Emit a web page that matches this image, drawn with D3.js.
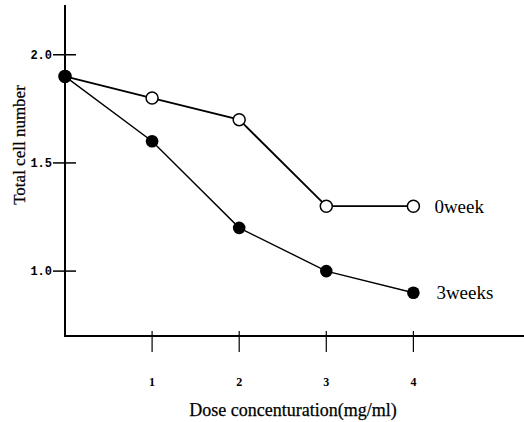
<!DOCTYPE html>
<html><head><meta charset="utf-8">
<script src="https://cdn.jsdelivr.net/npm/d3@7"></script>
<style>body{margin:0;background:#fff}svg{display:block}</style>
</head><body>
<svg id="c" width="524" height="422"></svg>
<script>
const doses = [0, 1, 2, 3, 4];
const week0 = [1.9, 1.8, 1.7, 1.3, 1.3];
const week3 = [1.9, 1.6, 1.2, 1.0, 0.9];
const xTicks = [1, 2, 3, 4];
const yTicks = [1.0, 1.5, 2.0];
const seriesNames = ["0week", "3weeks"];

const svg = d3.select("#c");
const x = d3.scaleLinear().domain([0, 5.27]).range([65, 524]);
const y = d3.scaleLinear().domain([0.7, 2.23]).range([336, 5]);

// axes lines
svg.append("line").attr("x1", x(0)).attr("x2", x(0)).attr("y1", y(2.23)).attr("y2", y(0.7))
  .attr("stroke", "#000").attr("stroke-width", 2);
svg.append("line").attr("x1", x(0) - 1).attr("x2", 524).attr("y1", y(0.7)).attr("y2", y(0.7))
  .attr("stroke", "#000").attr("stroke-width", 2);

// y ticks
const yt = svg.append("g");
yTicks.forEach(v => {
  yt.append("line").attr("x1", x(0) - 12).attr("x2", x(0) + 11).attr("y1", y(v)).attr("y2", y(v))
    .attr("stroke", "#000").attr("stroke-width", 1.5);
  yt.append("text").attr("x", x(0) - 13).attr("y", y(v)).attr("dy", "0.35em")
    .attr("text-anchor", "end").attr("font-family", "Liberation Mono, DejaVu Sans Mono, monospace")
    .attr("font-weight", "bold").attr("font-size", 12).text(v.toFixed(1));
});
// x ticks
const xt = svg.append("g");
xTicks.forEach(v => {
  xt.append("line").attr("x1", x(v)).attr("x2", x(v)).attr("y1", y(0.7) - 5).attr("y2", y(0.7) + 16)
    .attr("stroke", "#000").attr("stroke-width", 1.2);
  xt.append("text").attr("x", x(v)).attr("y", 382).attr("dy", "0.35em")
    .attr("text-anchor", "middle").attr("font-family", "Liberation Serif, serif")
    .attr("font-weight", "bold").attr("font-size", 12).text(v);
});

// axis titles
svg.append("text").attr("x", 293).attr("y", 410).attr("dy", "0.35em").attr("text-anchor", "middle")
  .attr("font-family", "Liberation Serif, serif").attr("font-size", 18)
  .attr("stroke", "#000").attr("stroke-width", 0.25).text("Dose concenturation(mg/ml)");
svg.append("text").attr("transform", `translate(19,${145}) rotate(-90)`).attr("dy", "0.35em")
  .attr("text-anchor", "middle").attr("font-family", "Liberation Serif, serif").attr("font-size", 17)
  .attr("stroke", "#000").attr("stroke-width", 0.25).text("Total cell number");

const line = d3.line().x((d, i) => x(doses[i])).y(d => y(d));

svg.append("path").datum(week3).attr("d", line).attr("fill", "none").attr("stroke", "#000").attr("stroke-width", 1.4);
svg.append("path").datum(week0).attr("d", line).attr("fill", "none").attr("stroke", "#000").attr("stroke-width", 1.8);

svg.selectAll("circle.w0").data(week0).enter().append("circle").attr("class", "w0")
  .attr("cx", (d, i) => x(doses[i])).attr("cy", d => y(d)).attr("r", 6)
  .attr("fill", "#fff").attr("stroke", "#000").attr("stroke-width", 1.5);
svg.selectAll("circle.w3").data(week3).enter().append("circle").attr("class", "w3")
  .attr("cx", (d, i) => x(doses[i])).attr("cy", d => y(d)).attr("r", 6.3)
  .attr("fill", "#000");

// series labels
svg.append("text").attr("x", x(4) + 21).attr("y", y(week0[4])).attr("dy", "0.35em")
  .attr("font-family", "Liberation Serif, serif").attr("font-size", 19).text(seriesNames[0]);
svg.append("text").attr("x", x(4) + 23).attr("y", y(week3[4])).attr("dy", "0.35em")
  .attr("font-family", "Liberation Serif, serif").attr("font-size", 19).text(seriesNames[1]);
</script>
</body></html>
